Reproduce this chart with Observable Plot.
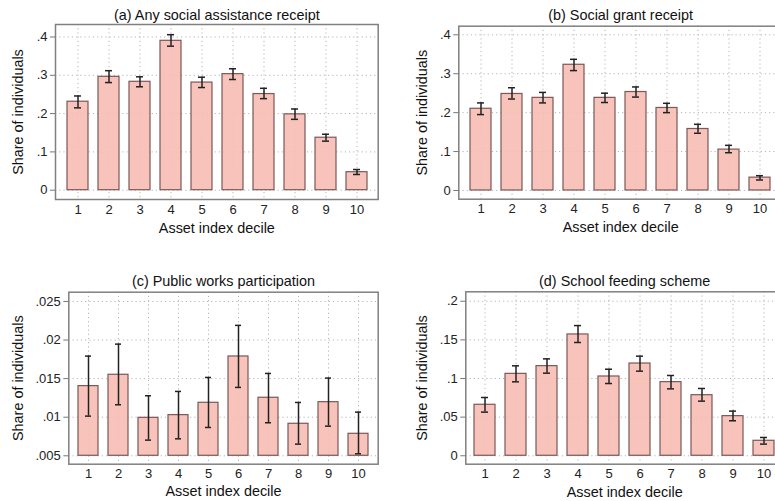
<!DOCTYPE html>
<html>
<head>
<meta charset="utf-8">
<script src="https://cdn.jsdelivr.net/npm/d3@7"></script>
<script src="https://cdn.jsdelivr.net/npm/@observablehq/plot@0.6"></script>
<style>
  html, body { margin: 0; padding: 0; background: #fff; }
  #wrap { position: relative; width: 775px; height: 501px; overflow: hidden; background: #fff; }
  #wrap > div { position: absolute; }
  #wrap svg { overflow: visible; max-width: none !important; }
</style>
</head>
<body>
<div id="wrap"></div>
<script>
// Asset index deciles
const deciles = [1, 2, 3, 4, 5, 6, 7, 8, 9, 10];

// (a) Any social assistance receipt: mean share and 95% CI bounds
const anyAssist   = [0.231, 0.296, 0.283, 0.390, 0.281, 0.303, 0.251, 0.198, 0.137, 0.047];
const anyAssistLo = [0.215, 0.281, 0.270, 0.376, 0.268, 0.289, 0.239, 0.185, 0.128, 0.041];
const anyAssistHi = [0.246, 0.312, 0.296, 0.406, 0.295, 0.317, 0.266, 0.212, 0.146, 0.054];

// (b) Social grant receipt
const grant   = [0.210, 0.248, 0.238, 0.323, 0.238, 0.253, 0.212, 0.158, 0.105, 0.033];
const grantLo = [0.195, 0.235, 0.225, 0.308, 0.226, 0.240, 0.200, 0.147, 0.097, 0.027];
const grantHi = [0.225, 0.264, 0.252, 0.337, 0.250, 0.266, 0.224, 0.170, 0.116, 0.038];

// (c) Public works participation
const works   = [0.01403, 0.0155, 0.00992, 0.01027, 0.01187, 0.01787, 0.01252, 0.00915, 0.01195, 0.00785];
const worksLo = [0.01014, 0.01161, 0.00703, 0.0072, 0.00867, 0.01386, 0.00928, 0.00651, 0.00884, 0.00526];
const worksHi = [0.01792, 0.01947, 0.01278, 0.01334, 0.01515, 0.0219, 0.01567, 0.01191, 0.01507, 0.01066];

// (d) School feeding scheme
const feeding   = [0.066, 0.106, 0.116, 0.157, 0.1026, 0.1194, 0.0953, 0.0784, 0.0513, 0.0194];
const feedingLo = [0.0565, 0.0957, 0.1069, 0.1466, 0.0935, 0.1095, 0.0866, 0.0707, 0.0453, 0.0151];
const feedingHi = [0.0754, 0.1164, 0.1254, 0.1685, 0.112, 0.1289, 0.1039, 0.0871, 0.0578, 0.0237];

// Axis tick values
const ticksA = [0, 0.1, 0.2, 0.3, 0.4];
const ticksB = [0, 0.1, 0.2, 0.3, 0.4];
const ticksC = [0.005, 0.01, 0.015, 0.02, 0.025];
const ticksD = [0, 0.05, 0.1, 0.15, 0.2];

const titles = [
  "(a) Any social assistance receipt",
  "(b) Social grant receipt",
  "(c) Public works participation",
  "(d) School feeding scheme"
];
const xLabel = "Asset index decile";
const yLabel = "Share of individuals";

const rows = (v, lo, hi) => deciles.map((d, i) => ({decile: d, value: v[i], lo: lo[i], hi: hi[i]}));

// Leading-zero-free tick labels (".4", ".025")
const fmt = d => d === 0 ? "0" : String(+d.toFixed(4)).replace(/^0\./, ".");

const FONT = "'Liberation Sans', Arial, sans-serif";
const BAR_FILL = "#f7bdb4";
const BAR_EDGE = "#7a5858";

function panel({data, title, ticks, yDomain, base, left, top, width, height, margins, titleDy, yLabelDx, xLabelDy}) {
  const chart = Plot.plot({
    width, height,
    marginLeft: margins[0], marginRight: margins[1], marginTop: margins[2], marginBottom: margins[3],
    style: {fontFamily: FONT, fontSize: "13px", color: "#222", background: "transparent"},
    x: {type: "band", domain: deciles, paddingInner: 0.335, paddingOuter: 0.27, label: null},
    y: {domain: yDomain, label: null},
    marks: [
      Plot.gridY(ticks, {stroke: "#b5b5b5", strokeOpacity: 1, strokeDasharray: "1.2,3"}),
      Plot.gridX(deciles, {stroke: "#b5b5b5", strokeOpacity: 1, strokeDasharray: "1.2,3"}),
      Plot.barY(data, {x: "decile", y1: base, y2: "value", fill: BAR_FILL, fillOpacity: 0.9, stroke: BAR_EDGE, strokeWidth: 1.2}),
      Plot.ruleX(data, {x: "decile", y1: "lo", y2: "hi", stroke: "#222", strokeWidth: 1.5}),
      Plot.tickY(data, {x: "decile", y: "lo", stroke: "#222", strokeWidth: 1.5, insetLeft: 7, insetRight: 7}),
      Plot.tickY(data, {x: "decile", y: "hi", stroke: "#222", strokeWidth: 1.5, insetLeft: 7, insetRight: 7}),
      Plot.axisY(ticks, {tickFormat: fmt, tickSize: 5, tickPadding: 3, stroke: "#777", fill: "#222", label: null, fontSize: 13}),
      Plot.axisX({tickSize: 0, tickPadding: 5, fill: "#222", label: null, fontSize: 13}),
      Plot.frame({stroke: "#808080", strokeWidth: 1.5}),
      Plot.text([title], {frameAnchor: "top", dy: titleDy, lineAnchor: "middle", fontSize: 14.4, fill: "#111"}),
      Plot.text([xLabel], {frameAnchor: "bottom", dy: xLabelDy, lineAnchor: "middle", fontSize: 14.4, fill: "#111"}),
      Plot.text([yLabel], {frameAnchor: "left", dx: yLabelDx, rotate: -90, textAnchor: "middle", lineAnchor: "middle", fontSize: 14.4, fill: "#111"})
    ]
  });
  const holder = document.createElement("div");
  holder.style.left = left + "px";
  holder.style.top = top + "px";
  holder.style.width = width + "px";
  holder.style.height = height + "px";
  holder.appendChild(chart);
  document.getElementById("wrap").appendChild(holder);
}

panel({
  data: rows(anyAssist, anyAssistLo, anyAssistHi), title: titles[0], ticks: ticksA,
  yDomain: [-0.0243, 0.4326], base: 0,
  left: 0, top: 0, width: 390, height: 250, margins: [55, 12.3, 24, 51],
  titleDy: -9.5, yLabelDx: -37, xLabelDy: 28.5
});
panel({
  data: rows(grant, grantLo, grantHi), title: titles[1], ticks: ticksB,
  yDomain: [-0.0224, 0.4221], base: 0,
  left: 385, top: 0, width: 400, height: 250, margins: [73.3, 3, 25.7, 51.3],
  titleDy: -10.7, yLabelDx: -36.6, xLabelDy: 28.5
});
panel({
  data: rows(works, worksLo, worksHi), title: titles[2], ticks: ticksC,
  yDomain: [0.00391, 0.0262], base: 0.005,
  left: 0, top: 250, width: 390, height: 251, margins: [68.3, 12.3, 41.7, 37.3],
  titleDy: -10.7, yLabelDx: -50, xLabelDy: 27.5
});
panel({
  data: rows(feeding, feedingLo, feedingHi), title: titles[3], ticks: ticksD,
  yDomain: [-0.0109, 0.2122], base: 0,
  left: 385, top: 250, width: 400, height: 251, margins: [80.3, 2, 41.3, 37.3],
  titleDy: -10.3, yLabelDx: -43, xLabelDy: 28
});
</script>
</body>
</html>
